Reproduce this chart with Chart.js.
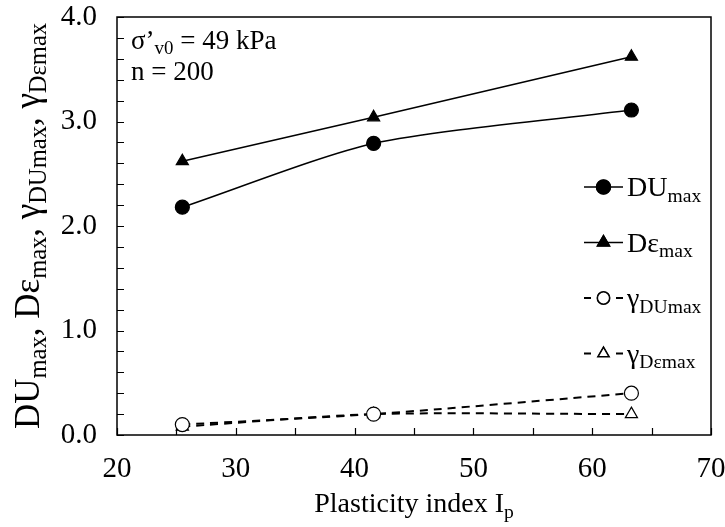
<!DOCTYPE html>
<html>
<head>
<meta charset="utf-8">
<script src="https://cdn.jsdelivr.net/npm/chart.js@4.4.0/dist/chart.umd.min.js"></script>
<style>
  body { margin: 0; background: #fff; }
  canvas { display: block; }
</style>
</head>
<body>
<canvas id="chart" width="725" height="527"></canvas>
<script>
// plasticity index of the three soils
const ip = [25.5, 41.6, 63.3];
const duMax = [2.18, 2.79, 3.11];
const deMax = [2.62, 3.04, 3.62];
const gDuMax = [0.10, 0.20, 0.40];
const gDeMax = [0.08, 0.20, 0.20];
const xTicks = [20, 30, 40, 50, 60, 70];
const yTicks = [0, 1, 2, 3, 4];

const FONT = "'Liberation Serif', 'Times New Roman', serif";
const SUB = 0.7;

function pts(ys) {
  return ip.map((x, i) => ({ x: x, y: ys[i] }));
}

// text made of normal and subscript parts
function richWidth(ctx, parts, size) {
  let w = 0;
  parts.forEach(p => {
    ctx.font = (p.sub ? size * SUB : size) + 'px ' + FONT;
    w += ctx.measureText(p.t).width;
  });
  return w;
}
function drawRich(ctx, parts, x, y, size, align) {
  let w = richWidth(ctx, parts, size);
  let cx = align === 'center' ? x - w / 2 : x;
  ctx.textAlign = 'left';
  ctx.textBaseline = 'alphabetic';
  ctx.fillStyle = '#000';
  parts.forEach(p => {
    ctx.font = (p.sub ? size * SUB : size) + 'px ' + FONT;
    ctx.fillText(p.t, cx, p.sub ? y + size * 0.2 : y);
    cx += ctx.measureText(p.t).width;
  });
}

const legendItems = [
  { idx: 0, label: [{ t: 'DU' }, { t: 'max', sub: true }] },
  { idx: 1, label: [{ t: 'D\u03b5' }, { t: 'max', sub: true }] },
  { idx: 2, label: [{ t: '\u03b3' }, { t: 'DUmax', sub: true }] },
  { idx: 3, label: [{ t: '\u03b3' }, { t: 'D\u03b5max', sub: true }] }
];

const decor = {
  id: 'decor',
  afterDraw(chart) {
    const ctx = chart.ctx;
    const a = chart.chartArea;
    const xs = chart.scales.x, ys = chart.scales.y;
    ctx.save();
    // frame
    ctx.strokeStyle = '#000';
    ctx.lineWidth = 1.5;
    ctx.strokeRect(a.left, a.top, a.right - a.left, a.bottom - a.top);
    // inward ticks
    ctx.lineWidth = 1.2;
    ctx.beginPath();
    for (let v = 20; v <= 70; v += 5) {
      const px = Math.round(xs.getPixelForValue(v)) + 0.5;
      ctx.moveTo(px, a.bottom);
      ctx.lineTo(px, a.bottom - 7);
    }
    for (let k = 0; k <= 20; k++) {
      const py = Math.round(ys.getPixelForValue(k * 0.2)) + 0.5;
      ctx.moveTo(a.left, py);
      ctx.lineTo(a.left + 7, py);
    }
    ctx.stroke();

    // annotation
    drawRich(ctx, [{ t: '\u03c3\u2019' }, { t: 'v0', sub: true }, { t: ' = 49 kPa' }], a.left + 14, 49, 27, 'left');
    drawRich(ctx, [{ t: 'n = 200' }], a.left + 14, 80, 27, 'left');

    // x title
    drawRich(ctx, [{ t: 'Plasticity index I' }, { t: 'p', sub: true }], (a.left + a.right) / 2, 512, 28, 'center');

    // y title
    ctx.save();
    ctx.translate(39, (a.top + a.bottom) / 2);
    ctx.rotate(-Math.PI / 2);
    drawRich(ctx, [
      { t: 'DU' }, { t: 'max', sub: true }, { t: ', D\u03b5' }, { t: 'max', sub: true },
      { t: ', \u03b3' }, { t: 'DUmax', sub: true }, { t: ', \u03b3' }, { t: 'D\u03b5max', sub: true }
    ], 0, 0, 35, 'center');
    ctx.restore();

    // legend
    legendItems.forEach((item, i) => {
      const ds = chart.data.datasets[item.idx];
      const y = 187 + i * 55.5;
      const x0 = 584, x1 = 623, mx = 603.5;
      ctx.strokeStyle = '#000';
      ctx.lineWidth = ds.borderWidth;
      ctx.beginPath();
      if (ds.borderDash) {
        ctx.moveTo(x0, y); ctx.lineTo(x0 + 7, y);
        ctx.moveTo(x1 - 7, y); ctx.lineTo(x1, y);
      } else {
        ctx.moveTo(x0, y); ctx.lineTo(x1, y);
      }
      ctx.stroke();
      Chart.helpers.drawPoint(ctx, {
        pointStyle: ds.pointStyle,
        radius: ds.pointRadius - (ds.borderDash ? 1 : 0),
        borderWidth: 1.2
      }, mx, y);
      ctx.fillStyle = ds.pointBackgroundColor;
      ctx.strokeStyle = '#000';
      ctx.lineWidth = 1.2;
      ctx.fill();
      ctx.stroke();
      drawRich(ctx, item.label, 627, y + 9, 28, 'left');
    });
    ctx.restore();
  }
};

const common = {
  borderColor: '#000',
  pointBorderColor: '#000',
  pointBorderWidth: 1.2,
  pointRadius: 7,
  pointHoverRadius: 7,
  tension: 0.25
};

new Chart(document.getElementById('chart'), {
  type: 'line',
  data: {
    datasets: [
      Object.assign({}, common, { label: 'DUmax', data: pts(duMax), borderWidth: 1.5, pointStyle: 'circle', pointBackgroundColor: '#000' }),
      Object.assign({}, common, { label: 'Demax', data: pts(deMax), borderWidth: 1.5, pointStyle: 'triangle', pointBackgroundColor: '#000' }),
      Object.assign({}, common, { label: 'gDUmax', data: pts(gDuMax), borderWidth: 2, borderDash: [8, 6], pointStyle: 'circle', pointBackgroundColor: '#fff' }),
      Object.assign({}, common, { label: 'gDemax', data: pts(gDeMax), borderWidth: 2, borderDash: [8, 6], pointStyle: 'triangle', pointBackgroundColor: '#fff' })
    ]
  },
  options: {
    responsive: false,
    animation: false,
    devicePixelRatio: 1,
    layout: { padding: { left: 0, right: 14, top: 17, bottom: 0 } },
    plugins: {
      legend: { display: false },
      tooltip: { enabled: false }
    },
    scales: {
      x: {
        type: 'linear',
        min: 20,
        max: 70,
        afterBuildTicks: s => { s.ticks = xTicks.map(v => ({ value: v })); },
        afterFit: s => { s.height = 92; s.paddingLeft = 0; s.paddingRight = 0; },
        ticks: {
          color: '#000',
          padding: 17,
          maxRotation: 0,
          font: { family: FONT, size: 29 },
          callback: v => String(v)
        },
        grid: { drawOnChartArea: false, drawTicks: false },
        border: { display: false }
      },
      y: {
        type: 'linear',
        min: 0,
        max: 4,
        afterBuildTicks: s => { s.ticks = yTicks.map(v => ({ value: v })); },
        afterFit: s => { s.width = 117; s.paddingTop = 0; s.paddingBottom = 0; },
        ticks: {
          color: '#000',
          padding: 20,
          font: { family: FONT, size: 29 },
          callback: v => v.toFixed(1)
        },
        grid: { drawOnChartArea: false, drawTicks: false },
        border: { display: false }
      }
    }
  },
  plugins: [decor]
});
</script>
</body>
</html>
